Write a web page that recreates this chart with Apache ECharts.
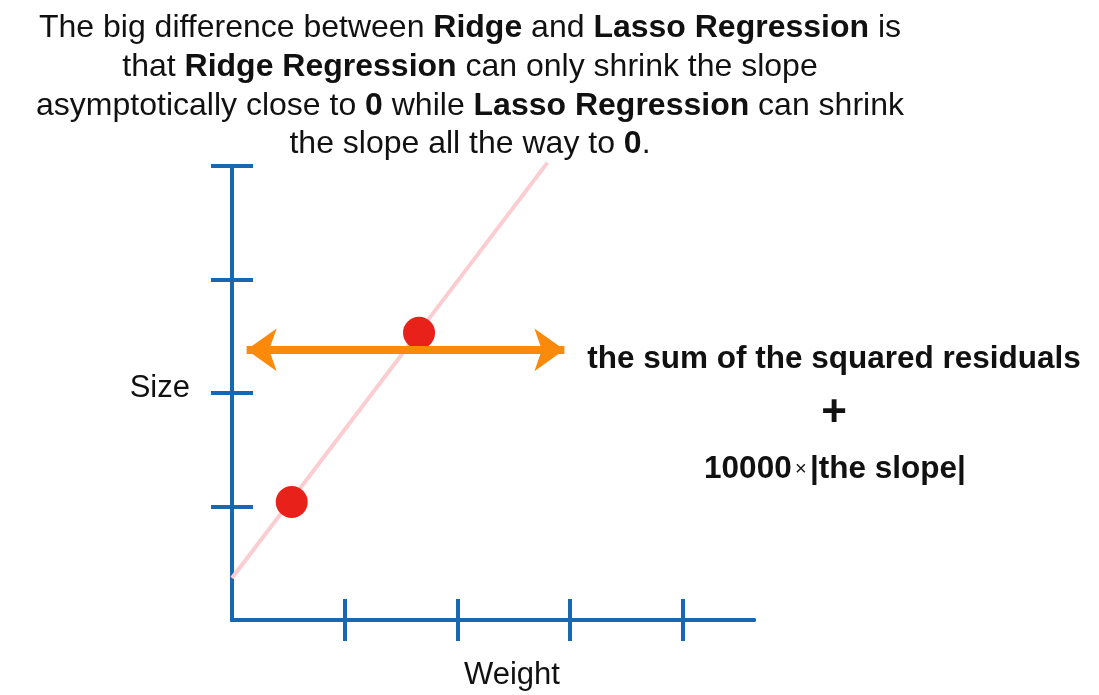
<!DOCTYPE html>
<html>
<head>
<meta charset="utf-8">
<script src="https://cdn.jsdelivr.net/npm/echarts@6/dist/echarts.min.js"></script>
<style>html,body{margin:0;padding:0;background:#fff;}#c{width:1099px;height:695px;}</style>
</head>
<body>
<div id="c"></div>
<script>
// Data
const points = [[0.53, 1.04], [1.66, 2.53]];
const fitLine = [[0, 0.37], [2.80, 4.03]];
const arrowY = 2.38;
const arrowX = [0.13, 2.95];
const xTicks = [1, 2, 3, 4];
const yTicks = [1, 2, 3, 4];
const xName = 'Weight';
const yName = 'Size';

const BLUE = '#1767b1';
const font = '"Liberation Sans", Arial, Helvetica, sans-serif';

const chart = echarts.init(document.getElementById('c'), null, {renderer: 'canvas'});

function axisBase(extra) {
  return Object.assign({
    type: 'value',
    axisLine: {show: true, lineStyle: {color: BLUE, width: 4}},
    axisLabel: {show: false},
    splitLine: {show: false}
  }, extra);
}

const option = {
  backgroundColor: '#ffffff',
  animation: false,
  grid: {left: 232, top: 166, width: 522, bottom: 75},
  xAxis: [
    axisBase({min: 0, max: 4.633, axisTick: {show: true, inside: false, length: 21, customValues: xTicks, lineStyle: {color: BLUE, width: 4}}}),
    axisBase({min: 0, max: 4.633, position: 'bottom', axisTick: {show: true, inside: true, length: 21, customValues: xTicks, lineStyle: {color: BLUE, width: 4}}})
  ],
  yAxis: [
    axisBase({min: 0, max: 4, axisTick: {show: true, inside: false, length: 21, customValues: yTicks, lineStyle: {color: BLUE, width: 4}}}),
    axisBase({min: 0, max: 4, position: 'left', axisTick: {show: true, inside: true, length: 21, customValues: yTicks, lineStyle: {color: BLUE, width: 4}}})
  ],
  series: [
    {
      type: 'line',
      data: fitLine,
      symbol: 'none',
      clip: false,
      lineStyle: {color: '#fbcdd1', width: 4},
      z: 1
    },
    {
      type: 'scatter',
      data: points,
      symbolSize: 32,
      itemStyle: {color: '#e8211b', opacity: 1},
      z: 3
    },
    {
      type: 'line',
      data: [],
      z: 4,
      markLine: {
        silent: true,
        symbol: ['arrow', 'arrow'],
        symbolSize: [32, 30],
        label: {show: false},
        lineStyle: {color: '#fb8a0b', width: 8, type: 'solid'},
        data: [[{coord: [arrowX[0], arrowY]}, {coord: [arrowX[1], arrowY]}]]
      }
    }
  ],
  graphic: [
    {
      type: 'text', x: 470, y: 9, z: 10,
      style: {
        text: 'The big difference between {b|Ridge} and {b|Lasso Regression} is\nthat {b|Ridge Regression} can only shrink the slope\nasymptotically close to {b|0} while {b|Lasso Regression} can shrink\nthe slope all the way to {b|0}.',
        font: '32px ' + font,
        fill: '#111',
        align: 'center',
        lineHeight: 38.7,
        rich: {b: {fontWeight: 'bold', fontSize: 32, fontFamily: font, fill: '#111', lineHeight: 38.7}}
      }
    },
    {
      type: 'text', x: 834, y: 359, z: 10,
      style: {text: 'the sum of the squared residuals', font: 'bold 31.5px ' + font, fill: '#111', align: 'center', verticalAlign: 'middle'}
    },
    {
      type: 'text', x: 834, y: 414, z: 10,
      style: {text: '+', font: 'bold 44px ' + font, fill: '#111', align: 'center', verticalAlign: 'middle'}
    },
    {
      type: 'text', x: 835, y: 469, z: 10,
      style: {
        text: '{b|10000} {s|×} {b|\u007Cthe slope\u007C}',
        align: 'center', verticalAlign: 'middle',
        rich: {
          b: {fontWeight: 'bold', fontSize: 31.5, fontFamily: font, fill: '#111'},
          s: {fontSize: 20, fontFamily: font, fill: '#111'}
        }
      }
    },
    {
      type: 'text', x: 190, y: 388, z: 10,
      style: {text: yName, font: '31px ' + font, fill: '#111', align: 'right', verticalAlign: 'middle'}
    },
    {
      type: 'text', x: 512, y: 675, z: 10,
      style: {text: xName, font: '31px ' + font, fill: '#111', align: 'center', verticalAlign: 'middle'}
    }
  ]
};
chart.setOption(option);
</script>
</body>
</html>
